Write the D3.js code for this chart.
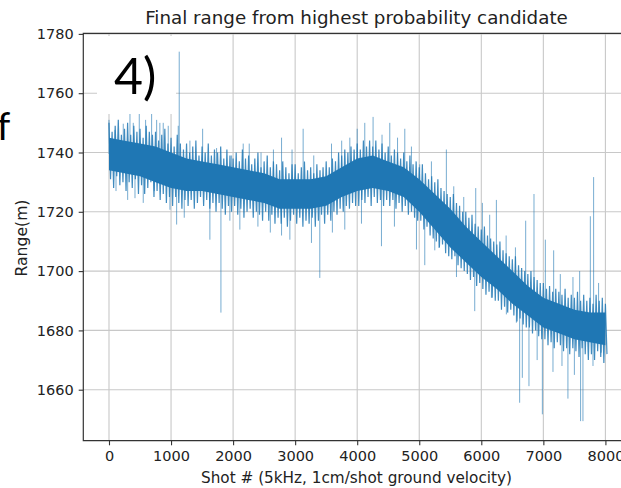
<!DOCTYPE html>
<html>
<head>
<meta charset="utf-8">
<script src="https://cdn.jsdelivr.net/npm/d3@7"></script>
<style>
body { margin: 0; background: #fff; }
svg { display: block; }
text { font-family: "DejaVu Sans", sans-serif; fill: #222; }
</style>
</head>
<body>
<svg id="chart" width="621" height="488"></svg>
<script>
var shots = [0,250,500,750,1000,1250,1500,1750,2000,2250,2500,2750,3000,3250,3500,3750,4000,
	4250,4500,4750,5000,5250,5500,5750,6000,6250,6500,6750,7000,7250,7500,7750,8000];
// dense dark part of the trace
var coreHi = [1745,1744,1743,1742,1740,1738,1737,1736,1735,1734,1733,1731,1731,1731,1732,1735,1738,
	1739,1737,1735,1731,1726,1721,1715,1710,1705,1700,1695,1691,1689,1687,1686,1686];
var coreLo = [1734,1733,1732,1730,1728,1727,1727,1726,1725,1724,1723,1721,1721,1721,1722,1725,1727,
	1728,1727,1725,1720,1714,1708,1703,1698,1694,1689,1685,1681,1679,1677,1676,1675];
// outer edge of the noisy trace, every 50 shots (tops at n*50, bottoms at n*50+25)
var traceTop = [1750,1747,1749,1751,1746, 1748,1750,1746,1749,1747, 1748,1745,1749,1747,1746,
	1747,1744,1746,1748,1743, 1745,1742,1746,1743,1741, 1743,1740,1742,1744,1739,
	1742,1740,1743,1739,1741, 1740,1742,1738,1741,1739, 1738,1740,1737,1741,1738,
	1739,1736,1738,1740,1735, 1737,1739,1735,1737,1736, 1734,1737,1735,1733,1736,
	1736,1733,1735,1737,1734, 1735,1733,1736,1734,1735, 1737,1735,1738,1737,1740,
	1739,1741,1740,1742,1741, 1743,1741,1744,1742,1744, 1742,1744,1741,1743,1740,
	1742,1739,1741,1740,1738, 1740,1737,1739,1736,1737, 1735,1736,1733,1731,1732,
	1730,1731,1728,1727,1726, 1725,1726,1723,1722,1720, 1720,1718,1719,1716,1715,
	1714,1715,1712,1711,1710, 1709,1710,1707,1706,1705, 1704,1705,1702,1701,1700,
	1699,1700,1698,1697,1696, 1696,1694,1695,1693,1694, 1693,1692,1694,1691,1692,
	1691,1693,1690,1692,1690, 1691,1689,1692,1690,1691, 1689];
var traceBottom = [1731,1728,1732,1729,1730, 1727,1730,1728,1731,1726, 1729,1726,1728,1730,1725,
	1727,1724,1726,1723,1725, 1722,1725,1723,1721,1724, 1722,1724,1721,1723,1725,
	1722,1724,1721,1723,1720, 1723,1721,1719,1722,1720, 1722,1719,1721,1718,1720,
	1721,1718,1720,1719,1717, 1720,1717,1719,1716,1718, 1716,1718,1715,1717,1719,
	1716,1718,1715,1717,1716, 1718,1715,1717,1719,1716, 1719,1717,1720,1719,1721,
	1720,1722,1721,1723,1722, 1722,1724,1723,1725,1722, 1725,1723,1724,1722,1724,
	1722,1724,1721,1723,1720, 1722,1719,1720,1718,1717, 1717,1714,1715,1712,1711,
	1710,1708,1709,1706,1705, 1704,1705,1702,1701,1700, 1699,1697,1698,1695,1696,
	1694,1692,1693,1691,1690, 1690,1687,1688,1686,1687, 1685,1683,1684,1682,1681,
	1681,1679,1680,1678,1677, 1677,1675,1676,1674,1676, 1675,1673,1674,1672,1674,
	1673,1671,1674,1672,1670, 1672,1670,1673,1671,1669, 1672];
// single outliers [shot, range]
var spikesUp = [[0,1751],[97,1747.6],[230,1749.7],[338,1753],[391,1750],[488,1753],[590,1751],[687,1753],
	[768,1751],[820,1750],[874,1750],[955,1749],[1116,1749],[1132,1774],[1304,1744],[1509,1748],
	[1734,1741.5],[1976,1739],[2163,1743],[2260,1743],[2450,1740],[2650,1741],[2781,1745],[2950,1741],
	[3129,1748],[3300,1739],[3586,1743],[3750,1744],[3881,1745],[4000,1748],[4122,1750],[4256,1752],
	[4400,1746],[4525,1750],[4650,1745],[4767,1748],[4874,1742],[5008,1736],[5196,1737],[5437,1741],
	[5556,1728.6],[5717,1725],[5910,1728],[6017,1723],[6135,1719],[6243,1724],[6400,1712],[6550,1708],
	[6715,1717],[6849,1726],[7032,1710.6],[7166,1707],[7273,1699],[7477,1698],[7585,1700],[7757,1718.5],
	[7810,1731.7],[7890,1696]];
var spikesDown = [[113,1727],[301,1724],[419,1724.6],[552,1723],[730,1727],[982,1720.7],[1090,1715.7],
	[1213,1718],[1626,1710.6],[1804,1686],[1948,1717],[2109,1714],[2400,1715],[2600,1713],[2781,1712],
	[2915,1710.6],[3263,1709.5],[3397,1697.7],[3600,1713],[3800,1714],[4069,1716],[4391,1708.4],[4600,1715],
	[4955,1707.3],[5089,1702],[5250,1707],[5319,1707.8],[5600,1698],[5894,1686.5],[6163,1691],[6404,1685.4],
	[6565,1682.6],[6618,1655.6],[6661,1664],[6768,1661.2],[6900,1670],[6984,1651.7],[7155,1666],[7300,1668],
	[7396,1657],[7500,1665],[7600,1649.4],[7638,1649.4],[7800,1668],[7933,1672.5]];
var xTicks = [0,1000,2000,3000,4000,5000,6000,7000,8000];
var yTicks = [1660,1680,1700,1720,1740,1760,1780];

var blue = "#1f77b4";
var svg = d3.select("#chart");
var mLeft = 83.3, mTop = 33.3, mBottom = 440.7, mRight = 631.1;

var x = d3.scaleLinear().domain([-414, 8414]).range([mLeft, mRight]);
var y = d3.scaleLinear().domain([1642.8, 1780.2]).range([mBottom, mTop]);

svg.append("clipPath").attr("id", "plot")
	.append("rect").attr("x", mLeft).attr("y", mTop).attr("width", mRight - mLeft).attr("height", mBottom - mTop);

// grid
var grid = svg.append("g").attr("stroke", "#c8c8c8").attr("stroke-width", 1.1);
grid.selectAll(".gx").data(xTicks).enter().append("line")
	.attr("x1", function(d){ return x(d) }).attr("x2", function(d){ return x(d) })
	.attr("y1", mTop).attr("y2", mBottom);
grid.selectAll(".gy").data(yTicks).enter().append("line")
	.attr("y1", function(d){ return y(d) }).attr("y2", function(d){ return y(d) })
	.attr("x1", mLeft).attr("x2", mRight);

var plot = svg.append("g").attr("clip-path", "url(#plot)");

var band = shots.map(function(s, i){ return {s: s, ch: coreHi[i], cl: coreLo[i]} });
var mid = d3.scaleLinear().domain(shots).range(shots.map(function(s, i){ return (coreHi[i] + coreLo[i]) / 2 }));

// the trace: up and down between the outer edges
var zig = [];
traceTop.forEach(function(v, i){
	zig.push([i * 50, v]);
	zig.push([i * 50 + 25, traceBottom[i]]);
});

plot.selectAll(".spike").data(spikesUp.concat(spikesDown)).enter().append("line")
	.attr("x1", function(d){ return x(d[0]) }).attr("x2", function(d){ return x(d[0]) })
	.attr("y1", function(d){ return y(mid(d[0])) }).attr("y2", function(d){ return y(d[1]) })
	.attr("stroke", blue).attr("stroke-width", 1).attr("opacity", 0.6);

plot.append("path").datum(zig)
	.attr("fill", "none").attr("stroke", blue).attr("stroke-width", 1.2).attr("opacity", 0.85)
	.attr("d", d3.line().x(function(d){ return x(d[0]) }).y(function(d){ return y(d[1]) }));

plot.append("path").datum(band)
	.attr("fill", blue)
	.attr("d", d3.area().x(function(d){ return x(d.s) }).y0(function(d){ return y(d.cl) }).y1(function(d){ return y(d.ch) }));

// white box behind the panel number
svg.append("rect").attr("x", 97).attr("y", 36).attr("width", 79).attr("height", 78).attr("fill", "#fff");

// spines
svg.append("path").attr("stroke", "#333").attr("stroke-width", 1.2).attr("fill", "none")
	.attr("d", "M" + mRight + "," + mTop + "H" + mLeft + "V" + mBottom + "H" + mRight);

// axes
var xAxis = svg.append("g").attr("transform", "translate(0," + mBottom + ")")
	.call(d3.axisBottom(x).tickValues(xTicks).tickSize(4.6).tickPadding(5).tickFormat(d3.format("d")));
var yAxis = svg.append("g").attr("transform", "translate(" + mLeft + ",0)")
	.call(d3.axisLeft(y).tickValues(yTicks).tickSize(4.6).tickPadding(5).tickFormat(d3.format("d")));
[xAxis, yAxis].forEach(function(a){
	a.select(".domain").remove();
	a.selectAll("line").attr("stroke", "#333").attr("stroke-width", 1.1);
	a.selectAll("text").attr("font-family", "DejaVu Sans").attr("font-size", 14.5).attr("fill", "#222");
});

function fit(sel, target){
	var w = sel.node().getComputedTextLength();
	sel.style("font-size", (parseFloat(sel.style("font-size")) * target / w) + "px");
}

var title = svg.append("text").attr("x", 356.5).attr("y", 24).attr("text-anchor", "middle")
	.style("font-size", "15px").text("Final range from highest probability candidate");
fit(title, 423);

var xlab = svg.append("text").attr("x", 356.5).attr("y", 483).attr("text-anchor", "middle")
	.style("font-size", "14px").text("Shot # (5kHz, 1cm/shot ground velocity)");
fit(xlab, 311);

var ylab = svg.append("text").attr("transform", "translate(27,238) rotate(-90)").attr("text-anchor", "middle")
	.style("font-size", "14px").text("Range(m)");
fit(ylab, 77);

svg.append("text").attr("x", 114).attr("y", 94).style("font-family", "Lato, 'Open Sans', sans-serif")
	.style("font-size", "50px").style("fill", "#000").text("4)");
svg.append("text").attr("x", -3).attr("y", 140).style("font-family", "Lato, 'Open Sans', sans-serif")
	.style("font-size", "38px").style("fill", "#000").text("f");
</script>
</body>
</html>
